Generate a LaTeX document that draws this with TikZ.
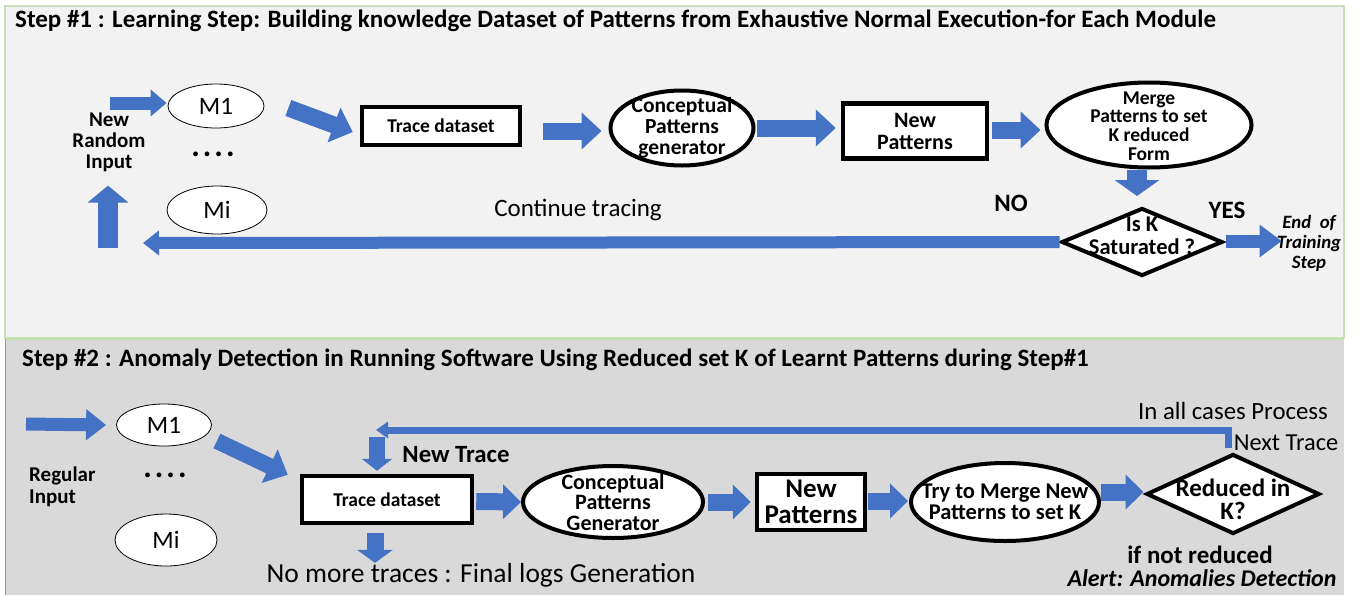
\documentclass[tikz,border=0pt]{standalone}
\usepackage{fontspec}
\setmainfont{Carlito}
\usetikzlibrary{arrows.meta,shapes.geometric,calc}
\definecolor{ablue}{HTML}{4472C4}
\definecolor{panelA}{HTML}{F2F2F2}
\definecolor{panelB}{HTML}{D9D9D9}
\definecolor{pgreen}{HTML}{C5E0B4}
\definecolor{pedge}{HTML}{8497B0}
\newcommand{\fs}[2]{\fontsize{#1}{#2}\selectfont}
\newcommand{\fourdots}{.\hspace{3pt}.\hspace{3pt}.\hspace{3pt}.}
\begin{document}
\begin{tikzpicture}[x=1pt,y=-1pt,
  barr/.style args={#1/#2/#3}{draw=ablue, line width=#1pt, -{Triangle[length=#3pt, width=#2pt]}},
  ell/.style={ellipse, draw=black, line width=0.8pt, fill=white, inner sep=0pt, font=\fs{25}{28}},
  ellthick/.style={ellipse, draw=black, line width=4pt, fill=white, inner sep=0pt},
  boxthick/.style={rectangle, draw=black, line width=4.5pt, fill=white, inner sep=0pt, align=center},
  diathick/.style={diamond, draw=black, line width=4pt, fill=white, inner sep=0pt},
  lbl/.style={inner sep=0pt, align=center},
]
\path[use as bounding box, fill=white] (0,0) rectangle (1357,595);
% panels
\draw[draw=pgreen, fill=panelA, line width=1.5pt] (5,6) rectangle (1344,338);
\fill[panelB] (5,339.5) rectangle (1344,595);
\draw[pgreen, line width=1.2pt] (5,339) -- (1344,339);
\draw[pedge, line width=1.5pt] (5.5,339) -- (5.5,595);

% ---------- Step 1 ----------
\node[lbl, anchor=west, font=\fs{25}{28}\bfseries] (title1) at (15,21)
  {Step \#1 : Learning Step: Building knowledge Dataset of Patterns from Exhaustive Normal Execution-for Each Module};

\coordinate (in1) at (110,103);
\node[ell, minimum width=96pt, minimum height=44pt] (M1a) at (216,106) {M1};
\node[lbl, font=\fs{21}{21}\bfseries] (inp1) at (109,142) {New\\Random\\Input};
\node[lbl, font=\fs{32}{32}\bfseries] (dots1) at (213,154) {\fourdots};
\node[ell, minimum width=100pt, minimum height=48pt] (Mi1) at (217,210) {Mi};

\node[boxthick, minimum width=158pt, minimum height=38pt, font=\fs{19.5}{22}\bfseries] (trace1) at (441,126) {Trace dataset};
\node[ellthick, minimum width=143pt, minimum height=75pt,
  label={[lbl, font=\fs{21.5}{21}\bfseries]center:{Conceptual\\Patterns\\generator}}] (cpg1) at (682,128) {};
\node[boxthick, minimum width=144pt, minimum height=55pt, font=\fs{22}{22}\bfseries] (np1) at (915,131) {New\\Patterns};
\node[ellthick, minimum width=205pt, minimum height=85pt,
  label={[lbl, font=\fs{19.5}{18.7}\bfseries, yshift=-1pt]center:{Merge\\Patterns to set\\K reduced\\Form}}] (mrg1) at (1149,125) {};
\node[diathick, minimum width=161pt, minimum height=68pt,
  label={[lbl, font=\fs{22.5}{23}\bfseries, yshift=6pt]center:{Is K\\Saturated ?}}] (dia1) at (1142,242) {};
\node[lbl, font=\fs{25}{28}\bfseries] (no1) at (1011,203) {NO};
\node[lbl, font=\fs{25}{28}\bfseries] (yes1) at (1227,210) {YES};
\node[lbl, font=\fs{18.8}{20}\bfseries\itshape] (endt) at (1309,243) {End~ of\\Training\\Step};
\node[lbl, font=\fs{25}{28}] (cont) at (578,210) {Continue tracing};
\coordinate (loopend) at (143,243);
\coordinate (upbase) at (108,248);

\draw[barr=13/26/16] (in1) -- ($(M1a.west)+(-1,-3)$);
\draw[barr=17/36/20] ($(M1a.east)+(24,2)$) -- ($(trace1.west)+(-7,6)$);
\draw[barr=17/36/20] ($(trace1.east)+(21,5)$) -- ($(cpg1.west)+(-7,3)$);
\draw[barr=17/36/20] ($(cpg1.east)+(1,0)$) -- ($(np1.west)+(-5,-3)$);
\draw[barr=17/36/20] ($(np1.east)+(3,-1)$) -- ($(mrg1.west)+(-4,5)$);
\draw[barr=20/44/16] ($(mrg1.south)+(-12,0)$) -- ($(dia1.north)+(-5,-10)$);
\draw[barr=13/31/22] ($(dia1.east)+(1,-1)$) -- ($(endt.west)+(5,-2)$);
\draw[barr=12/24/16] (dia1.west) -- (loopend);
\draw[barr=20/40/17] (upbase) -- (upbase |- Mi1.north);

% ---------- Step 2 ----------
\node[lbl, anchor=west, font=\fs{25}{28}\bfseries] (title2) at (22,360)
  {Step \#2 : Anomaly Detection in Running Software Using Reduced set K of Learnt Patterns during Step\#1};

\coordinate (in2) at (26,424);
\node[ell, minimum width=95pt, minimum height=42pt] (M1b) at (164,425) {M1};
\node[lbl, anchor=west, align=left, font=\fs{21}{22}\bfseries] (reg) at (29,487) {Regular\\Input};
\node[lbl, font=\fs{32}{32}\bfseries] (dots2) at (165,475) {\fourdots};
\node[ell, minimum width=102pt, minimum height=52pt] (Mi2) at (166,540) {Mi};

\node[boxthick, minimum width=170pt, minimum height=47pt, font=\fs{19.5}{22}\bfseries] (trace2) at (387,499.5) {Trace dataset};
\node[lbl, font=\fs{24.8}{28}\bfseries] (newtr) at (456,455) {New Trace};
\node[ellthick, minimum width=180pt, minimum height=72pt,
  label={[lbl, font=\fs{22}{20.5}\bfseries]center:{Conceptual\\Patterns\\Generator}}] (cpg2) at (613,502) {};
\node[boxthick, minimum width=108pt, minimum height=56pt, font=\fs{27}{26}\bfseries] (np2) at (811,502) {New\\Patterns};
\node[ellthick, minimum width=188pt, minimum height=78pt,
  label={[lbl, font=\fs{22.5}{21.5}\bfseries]center:{Try to Merge New\\Patterns to set K}}] (mrg2) at (1005,502) {};
\node[diathick, minimum width=173pt, minimum height=80pt,
  label={[lbl, font=\fs{25}{23}\bfseries, yshift=-5pt]center:{Reduced in\\K?}}] (dia2) at (1233,494) {};
\node[lbl, font=\fs{25}{28}\bfseries] (notred) at (1200,555) {if not reduced};
\node[lbl, font=\fs{24}{28}\bfseries\itshape] (alert) at (1202,578) {Alert: Anomalies Detection};
\node[lbl, font=\fs{24.8}{28}] (inall) at (1233,411) {In all cases Process};
\node[lbl, font=\fs{24.4}{28}] (nexttr) at (1286,443) {Next Trace};
\node[lbl, font=\fs{27.5}{30}] (nomore) at (481,575) {No more traces : Final logs Generation};

\coordinate (fbend) at (376,430);
\coordinate (dstart) at (377,437);
\coordinate (d2s) at ($(trace2.south)+(-12,8)$);

\draw[barr=13/30/20] (in2) -- ($(M1b.west)+(-10,0)$);
\draw[barr=16/36/20] ($(M1b.east)+(5,16)$) -- ($(trace2.north west)+(-12,1)$);
\draw[barr=7/16/12] ($(dia2.north)+(-5,-4)$) |- (fbend);
\draw[barr=16/30/12] (dstart) -- ($(dstart |- trace2.north)+(0,-3)$);
\draw[barr=17/34/18] ($(trace2.east)+(2,2)$) -- (cpg2.west);
\draw[barr=17/34/18] ($(cpg2.east)+(3,0)$) -- ($(np2.west)+(-4,0)$);
\draw[barr=17/34/18] ($(np2.east)+(1,-1)$) -- ($(mrg2.west)+(-1,-1)$);
\draw[barr=17/34/18] ($(mrg2.east)+(0,-10)$) -- ($(dia2.west)+(-1,-2)$);
\draw[barr=17/35/13] (d2s) -- (d2s |- nomore.north);
\end{tikzpicture}
\end{document}
